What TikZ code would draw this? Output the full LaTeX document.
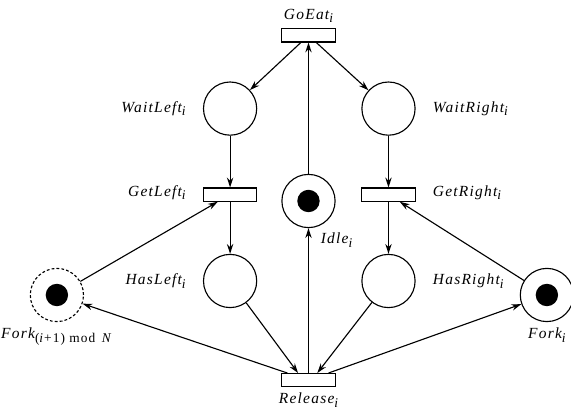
\documentclass[tikz,border=0pt]{standalone}
\usepackage{fontspec}
\setmainfont{Liberation Serif}
\usetikzlibrary{arrows.meta}
\newcommand{\idx}[1]{\raisebox{-0.55ex}{\fontsize{9.5}{11}\selectfont#1}}
\begin{document}
\begin{tikzpicture}[thick,node distance=2cm,>={Stealth[length=7pt,width=4.5pt]},
    place/.style={circle,draw,minimum size=1.33cm,inner sep=0pt},
    marked/.style={path picture={\fill (path picture bounding box.center) circle (0.28cm);}},
    transition/.style={rectangle,draw,minimum width=1.33cm,minimum height=0.33cm,inner sep=0pt},
    every label/.style={font=\fontsize{11}{13}\selectfont\itshape\addfontfeatures{LetterSpace=8}},
    label distance=0.3cm]
      \useasboundingbox (-7.7125,-5.2) rectangle (6.5625,5.025);
      \node (idle) [place,marked,label={[anchor=north west,label distance=0pt]-75:Idle\idx{i}}] {};
      \node (getleft) [transition,left of=idle,xshift=0.04cm,yshift=0.16cm,label={[yshift=0.05cm]left:GetLeft\idx{i}}] {};
      \node (getright) [transition,right of=idle,yshift=0.16cm,label={[yshift=0.05cm]right:GetRight\idx{i}}] {};
      \node (waitleft) [place,above of=getleft,yshift=0.15cm,label=left:WaitLeft\idx{i}] {};
      \node (waitright) [place,above of=getright,yshift=0.15cm,label=right:WaitRight\idx{i}] {};
      \node (goeat) [transition,above of=idle,yshift=2.14cm,label={[label distance=0pt]above:GoEat\idx{i}}] {};
      \node (hasleft) [place,below of=getleft,yshift=-0.16cm,label=left:HasLeft\idx{i}] {};
      \node (hasright) [place,below of=getright,yshift=-0.16cm,label=right:HasRight\idx{i}] {};
      \node (release) [transition,below of=idle,yshift=-2.48cm,label={[label distance=0pt]below:Release\idx{i}}] {};
      \node (forkl) [place,marked,dash pattern=on 2pt off 1.5pt,left of=hasleft,xshift=-2.33cm,yshift=-0.35cm,
        label={[label distance=0pt]below:Fork\idx{\upshape(\textit{i}+1) mod~\,\textit{N}}}] {};
      \node (forkr) [place,marked,right of=hasright,xshift=1.96cm,yshift=-0.35cm,
        label={[label distance=0pt]below:Fork\idx{i}}] {};
      \draw [->] (goeat) -- (waitleft);
      \draw [->] (goeat) -- (waitright);
      \draw [->] (idle) -- (goeat);
      \draw [->] (waitleft) -- (getleft);
      \draw [->] (waitright) -- (getright);
      \draw [->] (forkl) -- (getleft);
      \draw [->] (forkr) -- (getright);
      \draw [->] (getleft) -- (hasleft);
      \draw [->] (getright) -- (hasright);
      \draw [->] (hasleft) -- ([xshift=-0.26cm]release.north);
      \draw [->] (hasright) -- ([xshift=0.22cm]release.north);
      \draw [->] (release) -- (idle);
      \draw [->] (release) -- (forkl);
      \draw [->] (release) -- (forkr);
  \end{tikzpicture}
\end{document}
